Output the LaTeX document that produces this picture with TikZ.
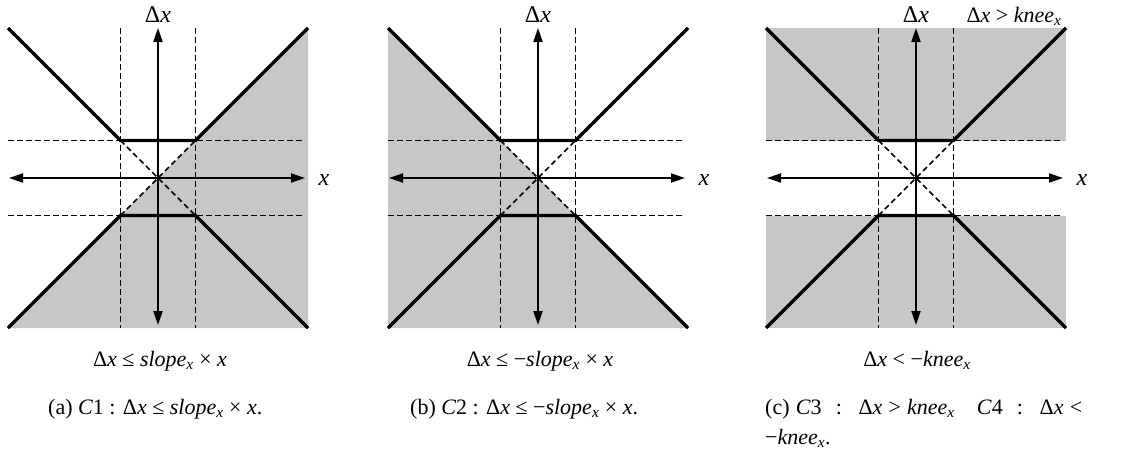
\documentclass[tikz,border=0pt]{standalone}
\usepackage{fontspec}
\setmainfont{Liberation Serif}
\usetikzlibrary{arrows.meta}
\newcommand{\dX}{Δ\textit{x}}
\newcommand{\subX}{\textsubscript{\textit{x}}}
\newcommand{\mypanel}[2]{%
  \begin{scope}[shift={(#2,178)}]
    \coordinate (#1-o) at (0,0);
    \draw[guide] (-37.5,-150) -- (-37.5,150);
    \draw[guide] (37.5,-150) -- (37.5,150);
    \draw[guide] (-150,-37.5) -- (147,-37.5);
    \draw[guide] (-150,37.5) -- (147,37.5);
    \draw[guide] (-37.5,-37.5) -- (37.5,37.5);
    \draw[guide] (-37.5,37.5) -- (37.5,-37.5);
    \draw[bound] (-150,-150) -- (-37.5,-37.5) -- (37.5,-37.5) -- (150,-150);
    \draw[bound] (-150,150) -- (-37.5,37.5) -- (37.5,37.5) -- (150,150);
    \coordinate (#1-l) at (-149,0);
    \coordinate (#1-r) at (147,0);
    \coordinate (#1-t) at (0,-150);
    \coordinate (#1-b) at (0,147);
    \draw[axis] (#1-l) -- (#1-r);
    \draw[axis] (#1-b) -- (#1-t);
    \node[lbl, font=\fontsize{24}{28}\selectfont, anchor=base] (#1-dx) at (0,-156) {\dX};
    \node[lbl, font=\fontsize{24}{28}\selectfont] (#1-x) at (166,2) {\textit{x}};
  \end{scope}}
\tikzset{
  bound/.style={line width=3.2pt, line join=miter},
  guide/.style={line width=1.6pt, dash pattern=on 5.5pt off 3.5pt},
  axis/.style={line width=2pt, {Triangle[length=14pt,width=9pt]}-{Triangle[length=14pt,width=9pt]}},
  shade/.style={fill=black!22, draw=none},
  lbl/.style={font=\fontsize{22}{26}\selectfont, inner sep=0pt},
}
\begin{document}
\begin{tikzpicture}[x=1pt,y=-1pt]
\useasboundingbox (0,0) rectangle (1128,469);
% shading
\fill[shade] (8,328) -- (308,28) -- (308,328) -- cycle;
\fill[shade] (388,28) -- (388,328) -- (688,328) -- cycle;
\fill[shade] (766,28) rectangle (1066,140.5);
\fill[shade] (766,215.5) rectangle (1066,328);
% panels
\mypanel{a}{158}
\mypanel{b}{538}
\mypanel{c}{916}
% panel labels
\node[lbl, anchor=base] (la) at (160,366) {\dX\ ≤ \textit{slope}\subX\ × \textit{x}};
\node[lbl, anchor=base] (lb) at (540,366) {\dX\ ≤ −\textit{slope}\subX\ × \textit{x}};
\node[lbl, anchor=base] (lc1) at (1014,22) {\dX\ > \textit{knee}\subX};
\node[lbl, anchor=base] (lc2) at (917,366) {\dX\ < −\textit{knee}\subX};
% captions
\node[lbl, anchor=base west] (ca) at (48,414) {(a) \textit{C}1 : \dX\ ≤ \textit{slope}\subX\ × \textit{x}.};
\node[lbl, anchor=base west] (cb) at (410,414) {(b) \textit{C}2 : \dX\ ≤ −\textit{slope}\subX\ × \textit{x}.};
\node[lbl, anchor=base west] (cc1) at (765,414) {\makebox[317pt][s]{(c) \textit{C}3\hspace{8pt} :\hspace{8pt} \dX\ > \textit{knee}\subX\hspace{16pt} \textit{C}4\hspace{8pt} :\hspace{8pt} \dX\ <}};
\node[lbl, anchor=base west] (cc2) at (765,444) {−\textit{knee}\subX.};
\end{tikzpicture}
\end{document}
